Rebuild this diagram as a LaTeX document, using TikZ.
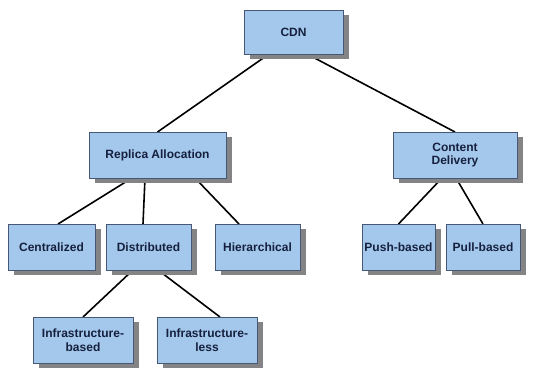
\documentclass[tikz,border=0pt]{standalone}
\usepackage{fontspec}
\setmainfont{Liberation Sans}
\usetikzlibrary{
backgrounds,
shadows
}
\tikzset{
  every node/.style = {
    inner sep = 0pt,
    outer sep = 0pt
  }
}
\definecolor{boxfill}{RGB}{163,200,236}
\definecolor{boxline}{RGB}{70,88,118}
\definecolor{boxtext}{RGB}{22,32,62}
\definecolor{boxshadow}{RGB}{132,132,134}

\begin{document}
\begin{tikzpicture}[
        x = 1pt,
        y = -1pt,
        topic/.style={
          draw = boxline,
          line width = 0.8pt,
          fill = boxfill,
          text = boxtext,
          font = \bfseries\fontsize{12}{13.5}\selectfont,
          align = center,
          minimum height = 46pt,
          drop shadow={
            shadow xshift = 6pt,
            shadow yshift = -5pt,
            fill = boxshadow,
            opacity = 1
          },
        },
        link/.style={
          line width = 1.6pt,
          black,
        },
        ]
        \useasboundingbox (0,0) rectangle (533,368);
        \node [topic, minimum width=99pt, minimum height=44pt] (cdn) at (293.5,32) {CDN};
        \node [topic, minimum width=137pt] (replica) at (157.5,155) {Replica Allocation};
        \node [topic, minimum width=124pt] (delivery) at (455,155) {Content\\Delivery};
        \node [topic, minimum width=87pt] (central) at (51.5,247) {Centralized};
        \node [topic, minimum width=85pt] (distrib) at (148.5,247) {Distributed};
        \node [topic, minimum width=85pt] (hier) at (257.5,247) {Hierarchical};
        \node [topic, minimum width=73pt] (push) at (398.5,247) {Push-based};
        \node [topic, minimum width=74pt] (pull) at (483,247) {Pull-based};
        \node [topic, minimum width=100pt] (infbased) at (83,340) {Infrastructure-\\based};
        \node [topic, minimum width=100pt] (infless) at (207,340) {Infrastructure-\\less};
        \begin{scope}[on background layer]
          \draw [link] ([xshift=-24.5pt]cdn.south) -- (replica.north);
          \draw [link] ([xshift=13.5pt]cdn.south) -- (delivery.north);
          \draw [link] ([xshift=-25.5pt]replica.south) -- ([xshift=6.5pt]central.north);
          \draw [link] ([xshift=-12.5pt]replica.south) -- ([xshift=-5.5pt]distrib.north);
          \draw [link] ([xshift=37.5pt]replica.south) -- ([xshift=-18.5pt]hier.north);
          \draw [link] ([xshift=-13pt]delivery.south) -- (push.north);
          \draw [link] ([xshift=1pt]delivery.south) -- (pull.north);
          \draw [link] ([xshift=-15.5pt]distrib.south) -- (infbased.north);
          \draw [link] ([xshift=9.5pt]distrib.south) -- ([xshift=13pt]infless.north);
        \end{scope}
      \end{tikzpicture}
\end{document}
